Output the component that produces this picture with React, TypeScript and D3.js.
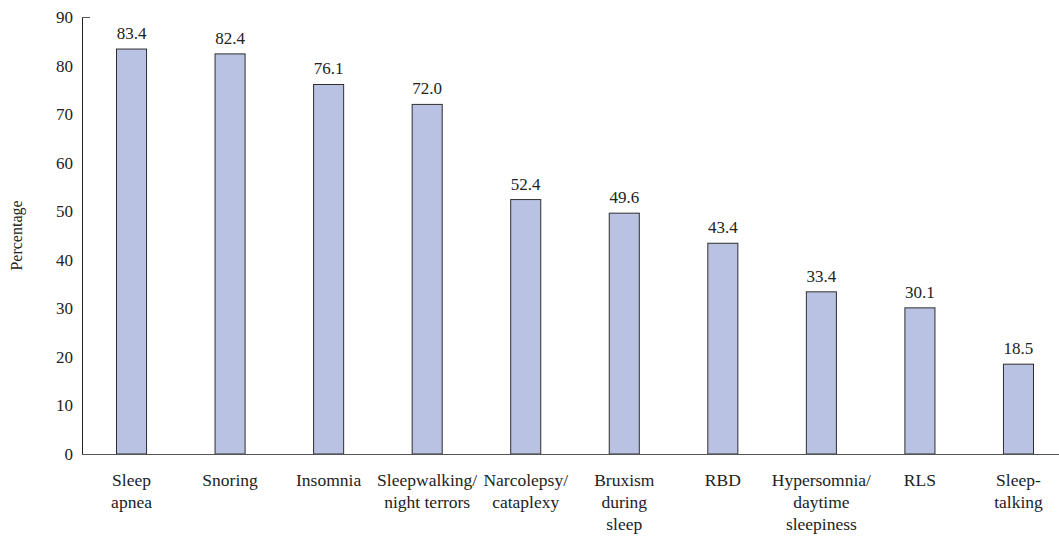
import React, { useEffect, useRef } from 'react';
import * as d3 from 'd3';

// categories (multi-line labels) and values
const categories = [
  ['Sleep', 'apnea'],
  ['Snoring'],
  ['Insomnia'],
  ['Sleepwalking/', 'night terrors'],
  ['Narcolepsy/', 'cataplexy'],
  ['Bruxism', 'during', 'sleep'],
  ['RBD'],
  ['Hypersomnia/', 'daytime', 'sleepiness'],
  ['RLS'],
  ['Sleep-', 'talking'],
];
const percentages = [83.4, 82.4, 76.1, 72.0, 52.4, 49.6, 43.4, 33.4, 30.1, 18.5];
const yTicks = [0, 10, 20, 30, 40, 50, 60, 70, 80, 90];

const W = 1059, H = 537;

const App = () => {
  const ref = useRef<SVGSVGElement>(null);

  useEffect(() => {
    const svg = d3.select(ref.current);
    svg.selectAll('*').remove();

    const left = 82, top = 17, bottom = 454;
    const ids = categories.map((_, i) => String(i));

    const x = d3.scaleBand().domain(ids).range([left, 1068]).paddingInner(0.695).paddingOuter(0.35);
    const y = d3.scaleLinear().domain([0, 90]).range([bottom, top]);

    // bars
    svg.append('g')
      .selectAll('rect')
      .data(percentages)
      .join('rect')
      .attr('x', (_, i) => x(String(i))!)
      .attr('y', d => y(d))
      .attr('width', x.bandwidth())
      .attr('height', d => bottom - y(d))
      .attr('fill', '#b9c2e2')
      .attr('stroke', '#2e2e2e')
      .attr('stroke-width', 1);

    // value labels
    svg.append('g')
      .selectAll('text')
      .data(percentages)
      .join('text')
      .attr('x', (_, i) => x(String(i))! + x.bandwidth() / 2)
      .attr('y', d => y(d) - 10)
      .attr('text-anchor', 'middle')
      .style('font-size', '17px')
      .attr('fill', '#222')
      .text(d => d.toFixed(1));

    // y axis line + top tick
    svg.append('line')
      .attr('x1', left + 0.5).attr('x2', left + 0.5)
      .attr('y1', top).attr('y2', bottom)
      .attr('stroke', '#222');
    svg.append('line')
      .attr('x1', left).attr('x2', left + 8)
      .attr('y1', top + 0.5).attr('y2', top + 0.5)
      .attr('stroke', '#555');

    // baseline
    svg.append('line')
      .attr('x1', left).attr('x2', W)
      .attr('y1', bottom + 0.5).attr('y2', bottom + 0.5)
      .attr('stroke', '#555');

    // y tick labels
    svg.append('g')
      .selectAll('text')
      .data(yTicks)
      .join('text')
      .attr('x', 73)
      .attr('y', d => y(d))
      .attr('dy', '0.35em')
      .attr('text-anchor', 'end')
      .style('font-size', '17px')
      .attr('fill', '#222')
      .text(d => d);

    // x category labels
    const xl = svg.append('g')
      .selectAll('text')
      .data(categories)
      .join('text')
      .attr('x', (_, i) => x(String(i))! + x.bandwidth() / 2)
      .attr('y', 486)
      .attr('text-anchor', 'middle')
      .style('font-size', '17.5px')
      .attr('fill', '#222');
    xl.selectAll('tspan')
      .data(d => d)
      .join('tspan')
      .attr('x', function () { return (this.parentNode as SVGTextElement).getAttribute('x'); })
      .attr('dy', (_, j) => (j === 0 ? 0 : 22))
      .text(d => d);

    // y axis title
    svg.append('text')
      .attr('transform', `translate(22,${(top + bottom) / 2}) rotate(-90)`)
      .attr('text-anchor', 'middle')
      .style('font-size', '16px')
      .attr('fill', '#222')
      .text('Percentage');
  }, []);

  return (
    <svg ref={ref} width={W} height={H}
      style={{ position: 'absolute', left: 0, top: 0, background: '#fff', fontFamily: 'Liberation Serif' }} />
  );
};

export default App;
